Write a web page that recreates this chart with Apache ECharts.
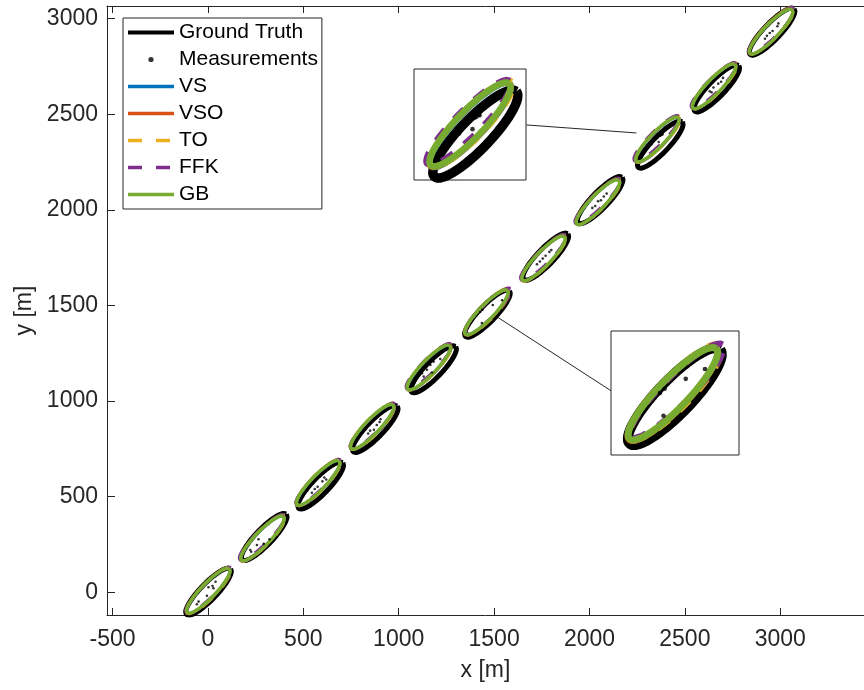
<!DOCTYPE html>
<html>
<head>
<meta charset="utf-8">
<script src="https://cdn.jsdelivr.net/npm/echarts@6/dist/echarts.min.js"></script>
<style>
html, body { margin: 0; padding: 0; background: #fff; }
#chart { width: 864px; height: 690px; }
</style>
</head>
<body>
<div id="chart"></div>
<script>
// ellipse centres per time step [x, y] in metres
var gtCentres = [[3, 3], [295, 289], [591, 558], [877, 854], [1183, 1166], [1465, 1457], [1771, 1755], [2056, 2051], [2371, 2341], [2667, 2635], [2957, 2932]];
var vsCentres = [[2, 7], [286, 280], [578, 570], [862, 864], [1160, 1175], [1461, 1464], [1760, 1746], [2045, 2040], [2357, 2366], [2654, 2645], [2952, 2932]];
var vsoCentres = [[0, 6], [285, 281], [577, 571], [861, 865], [1159, 1176], [1460, 1463], [1759, 1745], [2044, 2041], [2356, 2367], [2653, 2646], [2951, 2933]];
var toCentres = [[5, 9], [289, 284], [581, 574], [865, 868], [1162, 1179], [1468, 1469], [1762, 1749], [2048, 2044], [2360, 2370], [2657, 2649], [2955, 2936]];
var ffkCentres = [[4, 11], [284, 287], [580, 576], [864, 870], [1158, 1182], [1470, 1472], [1758, 1752], [2043, 2046], [2352, 2374], [2652, 2651], [2954, 2938]];
var gbCentres = [[2, 8], [286, 282], [578, 572], [861, 866], [1158, 1176], [1460, 1464], [1759, 1746], [2044, 2040], [2356, 2368], [2653, 2646], [2952, 2932]];

// ellipse shape [semi-major, semi-minor, angle deg]
var gtShape = [167, 43, 46];
var vsShape = [161, 38, 46];
var vsoShape = [162, 39, 46];
var toShape = [165, 40, 46];
var ffkShape = [166, 36, 45];
var gbShape = [160, 38, 46];

// measurement points
var measurements = [
  [24, 33], [3, 26], [29, 21], [-5, -18], [-49, -49], [-58, -63], [40, 55],
  [265, 277], [292, 253], [257, 247], [323, 277], [222, 221], [227, 212],
  [560, 540], [600, 580], [620, 590], [575, 552], [545, 520], [610, 600],
  [840, 830], [870, 850], [885, 875], [900, 890], [850, 845], [905, 905],
  [1166, 1189], [1183, 1206], [1131, 1172], [1122, 1145], [1104, 1140], [1148, 1163], [1175, 1149], [1218, 1220], [1131, 1128], [1110, 1149],
  [1542, 1527], [1493, 1502], [1439, 1477], [1427, 1466], [1436, 1408],
  [1740, 1730], [1770, 1760], [1790, 1780], [1755, 1745], [1800, 1790], [1725, 1715],
  [2030, 2020], [2060, 2050], [2075, 2070], [2015, 2010], [2090, 2085], [2045, 2045],
  [2380, 2395], [2370, 2388], [2383, 2394], [2325, 2343], [2363, 2355], [2374, 2390],
  [2630, 2620], [2650, 2640], [2675, 2660], [2690, 2670], [2640, 2615], [2700, 2690],
  [2930, 2910], [2960, 2935], [2985, 2960], [2945, 2925], [2990, 2975], [2920, 2895]
];

var xTickValues = [-500, 0, 500, 1000, 1500, 2000, 2500, 3000];
var yTickValues = [0, 500, 1000, 1500, 2000, 2500, 3000];

// zoom windows [xmin, xmax, ymin, ymax] and the step each one shows
var inset1 = [2198, 2514, 2212, 2524];
var inset2 = [1302, 1629, 1308, 1624];
var insetSteps = [8, 5];

// connector lines from inset to ellipse
var connector1 = [[1669, 2444], [2246, 2402]];
var connector2 = [[1522, 1436], [2114, 1053]];

function ellipses(centres, shape) {
  var pts = [];
  var a = shape[0], b = shape[1], t = shape[2] * Math.PI / 180;
  centres.forEach(function (c) {
    for (var i = 0; i <= 80; i++) {
      var p = i / 80 * 2 * Math.PI;
      var u = a * Math.cos(p), v = b * Math.sin(p);
      pts.push([c[0] + u * Math.cos(t) - v * Math.sin(t), c[1] + u * Math.sin(t) + v * Math.cos(t)]);
    }
    pts.push(['-', '-']);
  });
  return pts;
}

var font = 'Liberation Sans, Arial, Helvetica, sans-serif';
var axisCol = '#262626';

var estimators = [
  { name: 'Ground Truth', centres: gtCentres, shape: gtShape, color: '#000000', width: 5, type: 'solid' },
  { name: 'VS', centres: vsCentres, shape: vsShape, color: '#0072BD', width: 3, type: 'solid' },
  { name: 'VSO', centres: vsoCentres, shape: vsoShape, color: '#D95319', width: 3, type: 'solid' },
  { name: 'TO', centres: toCentres, shape: toShape, color: '#EDB120', width: 3, type: [14, 14] },
  { name: 'FFK', centres: ffkCentres, shape: ffkShape, color: '#7E2F8E', width: 3, type: [14, 14] },
  { name: 'GB', centres: gbCentres, shape: gbShape, color: '#77AC30', width: 3.5, type: 'solid' }
];

var series = [];
// main plot, then the two zoom boxes: [xAxis, yAxis, width scale, z, step]
[[0, 0, 1, 2, -1], [2, 1, 1.9, 6, insetSteps[0]], [3, 2, 2, 6, insetSteps[1]]].forEach(function (v, k) {
  var xi = v[0], yi = v[1], scale = v[2], z = v[3], step = v[4];
  estimators.forEach(function (e, j) {
    var cs = step < 0 ? e.centres : e.centres.slice(step, step + 1);
    series.push({
      name: e.name, type: 'line', xAxisIndex: xi, yAxisIndex: yi, z: z,
      data: ellipses(cs, e.shape), symbol: 'none', showSymbol: false, connectNulls: false,
      silent: true, animation: false, clip: true,
      itemStyle: { color: e.color },
      lineStyle: { color: e.color, width: e.width * scale, type: e.type }
    });
    if (j === 0) {
      series.push({
        name: 'Measurements', type: 'scatter', xAxisIndex: xi, yAxisIndex: yi, z: z + 1,
        data: measurements, symbol: 'circle', symbolSize: k === 0 ? 2.6 : 4.6,
        itemStyle: { color: '#000' }, silent: true, animation: false, clip: true
      });
    }
  });
});
[connector1, connector2].forEach(function (c) {
  series.push({
    type: 'line', xAxisIndex: 0, yAxisIndex: 0, z: 3, data: c, symbol: 'none',
    lineStyle: { color: axisCol, width: 1 }, silent: true, animation: false
  });
});

function hiddenAxis(grid, r, isX) {
  return {
    type: 'value', gridIndex: grid, min: isX ? r[0] : r[2], max: isX ? r[1] : r[3],
    show: false, splitLine: { show: false }
  };
}

function plain(v) { return String(v); }

function lineLegend(n, w) {
  return { name: n, itemStyle: { opacity: 0 }, lineStyle: { width: w } };
}

var chart = echarts.init(document.getElementById('chart'), null, { renderer: 'canvas' });
chart.setOption({
  animation: false,
  backgroundColor: '#fff',
  textStyle: { fontFamily: font },
  grid: [
    { left: 107, top: 6, right: 0, bottom: 75 },
    { left: 414, top: 69, width: 112, height: 111, show: true, z: 5, backgroundColor: '#fff', borderColor: axisCol, borderWidth: 1 },
    { left: 611, top: 331, width: 128, height: 124, show: true, z: 5, backgroundColor: '#fff', borderColor: axisCol, borderWidth: 1 }
  ],
  legend: {
    left: 123, top: 18, orient: 'vertical', selectedMode: false,
    data: [
      lineLegend('Ground Truth', 4),
      { name: 'Measurements', icon: 'path://M0,0M46,10M20.4,5a2.6,2.6 0 1,0 5.2,0a2.6,2.6 0 1,0 -5.2,0z' },
      lineLegend('VS', 3.5), lineLegend('VSO', 3.5), lineLegend('TO', 3.5), lineLegend('FFK', 3.5), lineLegend('GB', 3.5)
    ],
    itemWidth: 46, itemHeight: 10, itemGap: 6,
    padding: [4, 4, 4, 3],
    backgroundColor: '#fff', borderColor: axisCol, borderWidth: 1,
    textStyle: { fontSize: 21, color: '#000', fontFamily: font, lineHeight: 21 },
    z: 8
  },
  xAxis: [
    {
      type: 'value', gridIndex: 0, min: -529, max: 3439, position: 'bottom',
      name: 'x [m]', nameLocation: 'middle', nameGap: 44,
      nameTextStyle: { fontSize: 23, color: axisCol, fontFamily: font },
      axisLine: { show: true, onZero: false, lineStyle: { color: axisCol, width: 1 } },
      axisTick: { show: true, inside: true, length: 7, customValues: xTickValues, lineStyle: { color: axisCol } },
      axisLabel: { fontSize: 23, color: axisCol, margin: 13, customValues: xTickValues, formatter: plain, fontFamily: font },
      splitLine: { show: false }
    },
    {
      type: 'value', gridIndex: 0, min: -529, max: 3439, position: 'top',
      axisLine: { show: true, onZero: false, lineStyle: { color: axisCol, width: 1 } },
      axisTick: { show: true, inside: true, length: 7, customValues: xTickValues, lineStyle: { color: axisCol } },
      axisLabel: { show: false },
      splitLine: { show: false }
    },
    hiddenAxis(1, inset1, true),
    hiddenAxis(2, inset2, true)
  ],
  yAxis: [
    {
      type: 'value', gridIndex: 0, min: -119, max: 3066,
      name: 'y [m]', nameLocation: 'middle', nameGap: 66,
      nameTextStyle: { fontSize: 23, color: axisCol, fontFamily: font },
      axisLine: { show: true, onZero: false, lineStyle: { color: axisCol, width: 1 } },
      axisTick: { show: true, inside: true, length: 8, customValues: yTickValues, lineStyle: { color: axisCol } },
      axisLabel: { fontSize: 23, color: axisCol, margin: 9, customValues: yTickValues, formatter: plain, fontFamily: font },
      splitLine: { show: false }
    },
    hiddenAxis(1, inset1, false),
    hiddenAxis(2, inset2, false)
  ],
  series: series
});
</script>
</body>
</html>
